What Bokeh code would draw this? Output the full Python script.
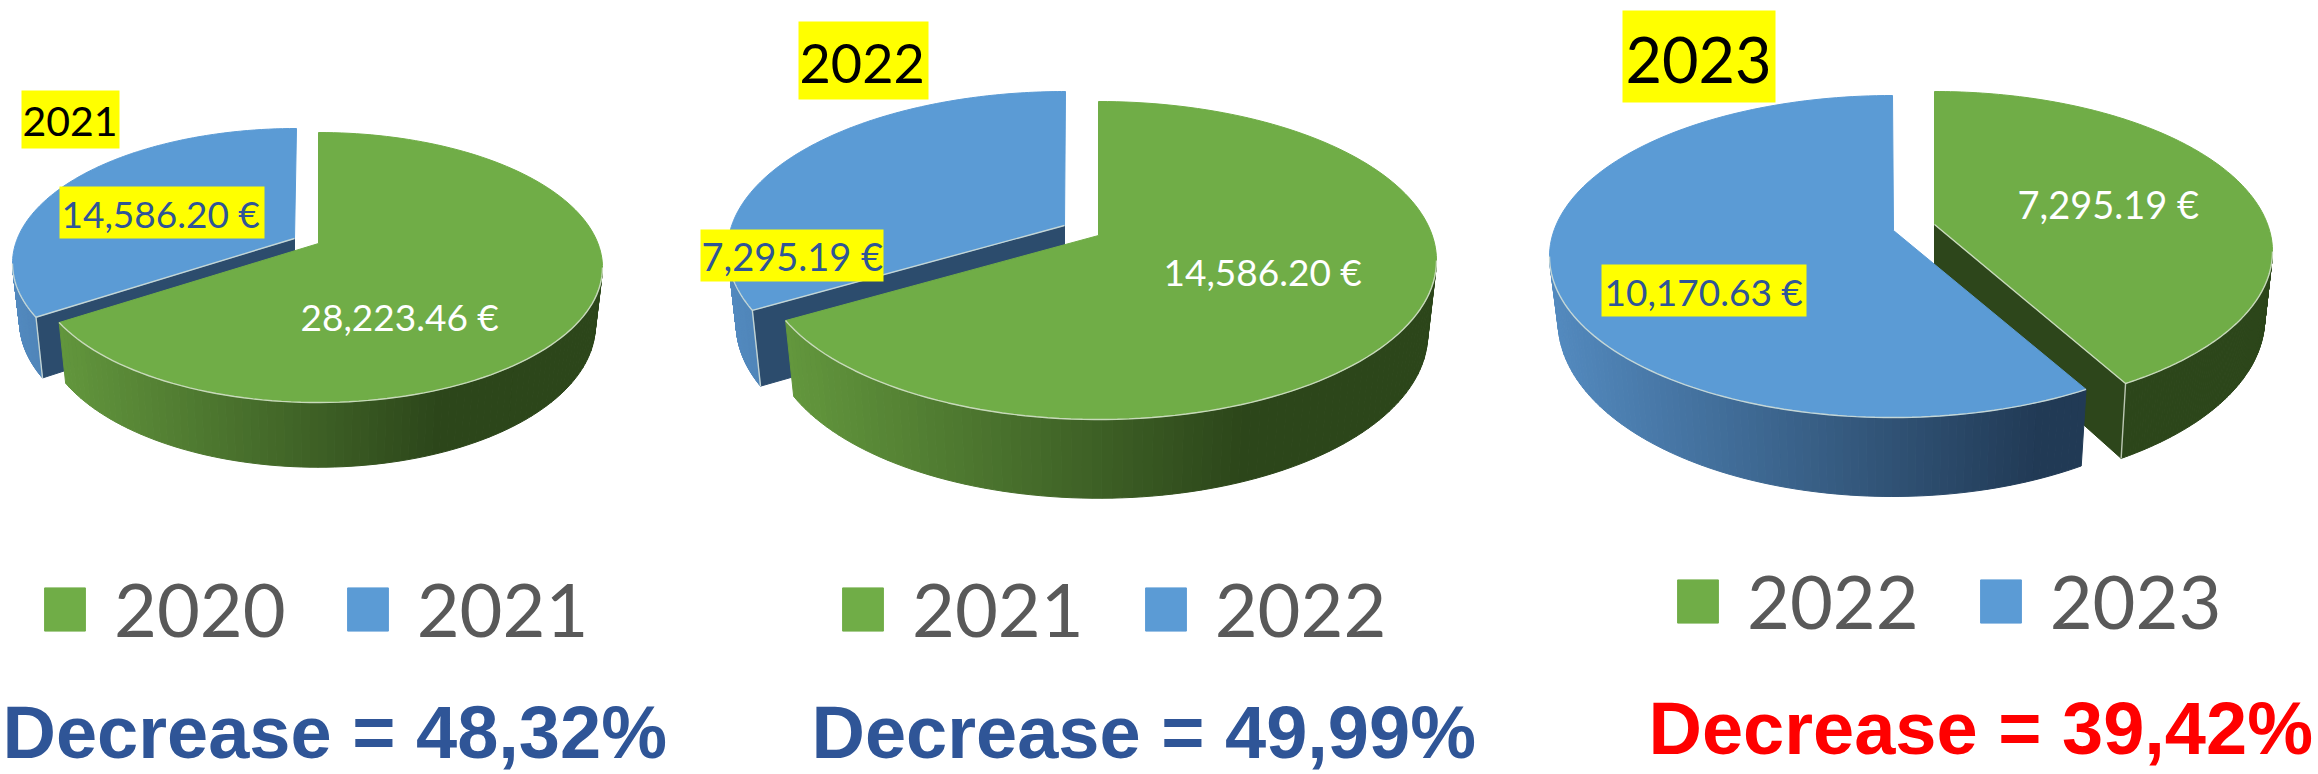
import math
from bokeh.plotting import figure
from bokeh.models import Range1d, Legend, LegendItem
from bokeh.core.properties import value
from bokeh.embed import file_html
from bokeh.resources import INLINE

# ---- data
years_a = ["2020", "2021"]
years_b = ["2021", "2022"]
years_c = ["2022", "2023"]
values_a = [28223.46, 14586.20]
values_b = [14586.20, 7295.19]
values_c = [7295.19, 10170.63]
titles = ["2021", "2022", "2023"]
decrease = ["Decrease = 48,32%", "Decrease = 49,99%", "Decrease = 39,42%"]

GREEN, BLUE = "#70AD47", "#5B9BD5"
CUT = {GREEN: "#2d461b", BLUE: "#2c4c6d"}
SHADE = {GREEN: ((0x66, 0x9c, 0x3f), (0x2c, 0x46, 0x1a)),
         BLUE: ((0x53, 0x8a, 0xbf), (0x21, 0x3a, 0x55))}
BASE_FIX = 0.38

p = figure(width=2318, height=774, x_range=Range1d(0, 2318), y_range=Range1d(774, 0),
           x_axis_location=None, y_axis_location=None, toolbar_location=None,
           output_backend="svg", min_border=0, outline_line_color=None,
           background_fill_color="white")
p.grid.visible = False


def rim_point(theta, apex, ell):
    """ray from the apex at pie angle theta (clockwise from 12 o'clock) meets the ellipse"""
    cx, cy, rx, ry = ell
    dx, dy = math.sin(theta), -math.cos(theta) * ry / rx
    ax, ay = apex[0] - cx, apex[1] - cy
    A = (dx / rx) ** 2 + (dy / ry) ** 2
    B = 2 * (ax * dx / rx ** 2 + ay * dy / ry ** 2)
    C = (ax / rx) ** 2 + (ay / ry) ** 2 - 1
    t = (-B + math.sqrt(B * B - 4 * A * C)) / (2 * A)
    return apex[0] + t * dx, apex[1] + t * dy


def phi_of(pt, ell):
    cx, cy, rx, ry = ell
    return math.atan2((pt[0] - cx) / rx, -(pt[1] - cy) / ry) % (2 * math.pi)


def on_ell(phi, ell):
    cx, cy, rx, ry = ell
    return cx + rx * math.sin(phi), cy - ry * math.cos(phi)


def draw_slice(frac0, frac1, colour, apex, ell, drop, shrink_x, shrink_y, cut_at=None):
    th0, th1 = 2 * math.pi * frac0, 2 * math.pi * frac1
    low = (ell[0], ell[1] + drop, ell[2] * shrink_x, ell[3] * shrink_y)
    apex_low = (apex[0], apex[1] + drop)
    p0, p1 = rim_point(th0, apex, ell), rim_point(th1, apex, ell)
    ph0 = phi_of(p0, ell)
    ph1 = phi_of(p1, ell)
    if frac0 == 0:
        ph0 = 0.0
    if frac1 >= 1:
        ph1 = 2 * math.pi
    n = 160
    arc = [ph0 + (ph1 - ph0) * i / n for i in range(n + 1)]
    # cut face
    if cut_at is not None:
        th = 2 * math.pi * cut_at
        r = rim_point(th, apex, ell)
        rl = on_ell(phi_of(r, ell), low)
        p.patch([apex[0], r[0], rl[0], apex_low[0]], [apex[1], r[1], rl[1], apex_low[1]],
                fill_color=CUT[colour], line_color=CUT[colour], line_width=1)
    # outer wall, shaded in vertical strips
    vis0, vis1 = max(ph0, math.pi / 2), min(ph1, 3 * math.pi / 2)
    xs, ys, cs = [], [], []
    a, b = SHADE[colour]
    m = 90
    if vis1 > vis0:
        pts = [vis0 + (vis1 - vis0) * i / m for i in range(m + 1)]
        for u, v in zip(pts[:-1], pts[1:]):
            t0, t1 = on_ell(u, ell), on_ell(v, ell)
            b0, b1 = on_ell(u, low), on_ell(v, low)
            xs.append([t0[0], t1[0], b1[0], b0[0]])
            ys.append([t0[1], t1[1], b1[1], b0[1]])
            k = min(1.0, max(0.0, ((t0[0] - ell[0] + ell[2]) / (2 * ell[2])) / 0.72))
            cs.append("#%02x%02x%02x" % tuple(round(a[i] + (b[i] - a[i]) * k) for i in range(3)))
        p.patches(xs, ys, fill_color=cs, line_color=cs, line_width=1)
    # top face
    face_x = [apex[0]] + [on_ell(f, ell)[0] for f in arc]
    face_y = [apex[1]] + [on_ell(f, ell)[1] for f in arc]
    face = p.patch(face_x, face_y, fill_color=colour, line_color=colour, line_width=1)
    # light rim along the front
    if vis1 > vis0:
        rim = [vis0 + (vis1 - vis0) * i / 80 for i in range(81)]
        p.line([on_ell(f, ell)[0] for f in rim], [on_ell(f, ell)[1] for f in rim],
               line_color="#dfe6d8", line_width=1.4, line_alpha=0.8)
    if cut_at is not None:
        r = rim_point(2 * math.pi * cut_at, apex, ell)
        rl = on_ell(phi_of(r, ell), low)
        p.line([apex[0], r[0], rl[0]], [apex[1], r[1], rl[1]], line_color="#dfe6d8", line_width=1.4, line_alpha=0.8)
    return face


def money(v):
    return f"{v:,.2f} €"


def tag(box, txt, x, base, size, colour):
    if box is not None:
        p.quad(left=[box[0]], right=[box[1]], top=[box[2]], bottom=[box[3]],
               fill_color="#FFFF00", line_color=None)
    p.text([x], [base - BASE_FIX * size], text=[txt], text_font=value("Lato"), text_font_size=f"{size}px",
           text_color=colour, text_baseline="alphabetic", text_align="left")


def legend(names, faces, x, y):
    items = [LegendItem(label=value(n), renderers=[f]) for n, f in zip(names, faces)]
    p.add_layout(Legend(items=items, location=(x, y), orientation="horizontal", margin=0, padding=0,
                        glyph_width=51, glyph_height=54, label_standoff=24, spacing=56,
                        border_line_color=None, background_fill_alpha=0,
                        label_text_font="Lato", label_text_font_size="74px",
                        label_text_color="#595959"))


# ---- pie 1
s = sum(values_a); f = values_a[0] / s
b1 = draw_slice(f, 1, BLUE, (294, 238), (296, 263, 284, 135), 58, 0.975, 1.05, cut_at=f)
g1 = draw_slice(0, f, GREEN, (318, 243), (318, 267, 284, 135), 58, 0.975, 1.05)
# ---- pie 2
s = sum(values_b); f = values_b[0] / s
b2 = draw_slice(f, 1, BLUE, (1064, 225), (1065, 250, 338, 159), 74, 0.974, 1.03, cut_at=f)
g2 = draw_slice(0, f, GREEN, (1098, 235), (1098, 260, 338, 159), 74, 0.974, 1.03)
# ---- pie 3
s = sum(values_c); f = values_c[0] / s
g3 = draw_slice(0, f, GREEN, (1934, 224), (1934, 251, 338, 160), 67, 0.977, 1.06, cut_at=f)
b3 = draw_slice(f, 1, BLUE, (1893, 230), (1892, 256, 343, 161), 65, 0.975, 1.087)

# ---- year tags
tag((21, 119, 90, 148), titles[0], 22, 137, 41, "black")
tag((798, 928, 21, 99), titles[1], 799, 84, 54, "black")
tag((1622, 1775, 10, 102), titles[2], 1625, 83, 63, "black")

# ---- value labels
tag((59, 264, 186, 238), money(values_a[1]), 61, 227, 37, "#2F5597")
tag(None, money(values_a[0]), 300, 330, 37, "white")
tag((700, 883, 229, 281), money(values_b[1]), 701, 270, 38, "#2F5597")
tag(None, money(values_b[0]), 1163, 285, 37, "white")
tag(None, money(values_c[0]), 2017, 218, 38, "white")
tag((1601, 1806, 264, 316), money(values_c[1]), 1604, 305, 37, "#2F5597")

# ---- legends
legend(years_a, [g1, b1], 39, 121)
legend(years_b, [g2, b2], 837, 121)
legend(years_c, [g3, b3], 1672, 129)

# ---- decrease captions
for txt, x, y, col in zip(decrease, [2, 811, 1648], [760, 760, 756], ["#2F5597", "#2F5597", "#FF0000"]):
    p.text([x], [y - BASE_FIX * 74], text=[txt], text_font=value("Liberation Sans"), text_font_style="bold",
           text_font_size="74px", text_color=col, text_baseline="alphabetic", text_align="left")

open("out.html", "w").write(file_html(p, INLINE))
